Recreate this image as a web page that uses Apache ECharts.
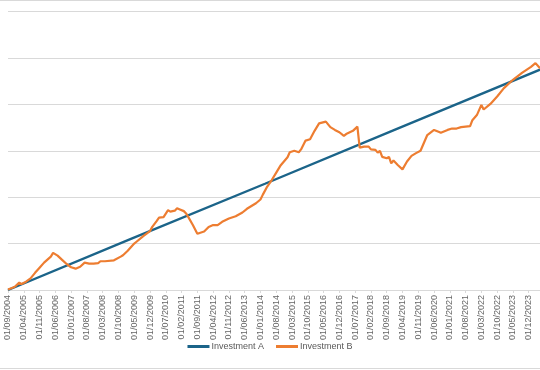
<!DOCTYPE html>
<html>
<head>
<meta charset="utf-8">
<script src="https://cdn.jsdelivr.net/npm/echarts@6/dist/echarts.min.js"></script>
<style>
html,body{margin:0;padding:0;background:#fff;}
#chart{width:540px;height:370px;}
</style>
</head>
<body>
<div id="chart"></div>
<script>
// Monthly category axis: 01/09/2004 .. 01/05/2024
const startYear = 2004, startMonth = 9, monthCount = 237;
const seriesNames = ['Investment A', 'Investment B'];

// Investment A (read points, straight line)
const aDates  = ['2004-09', '2009-03', '2014-03', '2019-01', '2024-05'];
const aValues = [0, 109, 229, 346, 475];

// Investment B (read vertices)
const bDates = ['2004-09','2004-11','2004-12','2005-02','2005-03','2005-05','2005-07','2005-09','2005-11','2006-01',
'2006-04','2006-05','2006-07','2006-09','2006-11','2007-01','2007-03','2007-05','2007-07','2007-09',
'2007-11','2008-01','2008-02','2008-04','2008-08','2008-11','2008-12','2009-02','2009-05','2009-06',
'2009-09','2009-12','2010-01','2010-03','2010-04','2010-06','2010-08','2010-09','2010-11','2010-12',
'2011-01','2011-03','2011-04','2011-05','2011-07','2011-09','2011-10','2011-12','2012-02','2012-04',
'2012-06','2012-08','2012-11','2013-02','2013-05','2013-07','2013-09','2013-11','2014-01','2014-02',
'2014-04','2014-06','2014-08','2014-10','2015-01','2015-02','2015-04','2015-06','2015-07','2015-09',
'2015-11','2016-01','2016-03','2016-06','2016-08','2016-10','2016-12','2017-02','2017-03','2017-06',
'2017-08','2017-09','2017-11','2018-01','2018-02','2018-04','2018-05','2018-06','2018-07','2018-09',
'2018-10','2018-11','2018-12','2019-02','2019-04','2019-06','2019-08','2019-10','2019-12','2020-03',
'2020-06','2020-08','2020-09','2020-12','2021-02','2021-04','2021-06','2021-10','2021-11','2022-01',
'2022-03','2022-04','2022-07','2022-10','2023-01','2023-05','2023-09','2024-01','2024-03','2024-05'];
const bValues = [1,5,7,16,13,18,25,37,48,59,
72,80,74,65,56,49,46,50,59,57,
57,58,62,62,64,72,75,84,100,104,
116,127,136,149,156,157,172,169,171,176,
174,170,165,157,140,121,123,126,136,140,
140,147,154,159,167,175,181,187,195,205,
223,237,253,269,286,297,300,297,303,322,
325,343,359,363,351,345,340,332,336,343,
352,307,309,309,303,302,296,300,287,284,
287,273,279,269,260,277,289,295,300,334,
345,341,339,345,348,348,351,353,366,377,
399,389,401,417,435,453,468,481,489,478];

const yMin = 0, yMax = 600, yStep = 100;

function pad(n){ return (n < 10 ? '0' : '') + n; }
const categories = [];
for (let i = 0; i < monthCount; i++) {
  const t = (startMonth - 1) + i;
  const y = startYear + Math.floor(t / 12);
  const m = (t % 12) + 1;
  categories.push('01/' + pad(m) + '/' + y);
}
function toIndex(s){
  const p = s.split('-');
  return (parseInt(p[0],10) - startYear) * 12 + (parseInt(p[1],10) - startMonth);
}
const aData = aDates.map((d,i)=>[toIndex(d), aValues[i]]);
const bData = bDates.map((d,i)=>[toIndex(d), bValues[i]]);

const chart = echarts.init(document.getElementById('chart'), null, {renderer:'canvas'});
chart.setOption({
  animation: false,
  backgroundColor: '#ffffff',
  grid: { left: 8, right: 0, top: 11.6, bottom: 80, containLabel: false },
  xAxis: {
    type: 'category',
    data: categories,
    boundaryGap: false,
    axisLine: { show: true, lineStyle: { color: '#d9d9d9', width: 1 } },
    axisTick: { show: true, interval: 6, length: 3, lineStyle: { color: '#d9d9d9' } },
    axisLabel: { interval: 6, rotate: 90, margin: 5, fontSize: 9, color: '#666666',
                 fontFamily: 'Liberation Sans, Arial, sans-serif' },
    splitLine: { show: false }
  },
  yAxis: {
    type: 'value', min: yMin, max: yMax, interval: yStep,
    axisLine: { show: false }, axisTick: { show: false }, axisLabel: { show: false },
    splitLine: { show: true, lineStyle: { color: '#d9d9d9', width: 1 } }
  },
  legend: {
    data: seriesNames,
    left: 'center', top: 337,
    icon: 'rect', itemWidth: 22, itemHeight: 3, itemGap: 12,
    textStyle: { fontSize: 9, color: '#595959', fontFamily: 'Liberation Sans, Arial, sans-serif', padding: [0,0,0,-3] }
  },
  graphic: [
    { type: 'line', shape: { x1: 0, y1: 0.5, x2: 540, y2: 0.5 }, style: { stroke: '#d9d9d9', lineWidth: 1 }, silent: true },
    { type: 'line', shape: { x1: 0, y1: 368.5, x2: 540, y2: 368.5 }, style: { stroke: '#d9d9d9', lineWidth: 1 }, silent: true }
  ],
  series: [
    { name: seriesNames[0], type: 'line', data: aData, showSymbol: false, symbol: 'none',
      lineStyle: { color: '#1b6489', width: 2.4 }, itemStyle: { color: '#1b6489' } },
    { name: seriesNames[1], type: 'line', data: bData, showSymbol: false, symbol: 'none',
      lineStyle: { color: '#ed7d31', width: 2.2 }, itemStyle: { color: '#ed7d31' } }
  ]
});
</script>
</body>
</html>
